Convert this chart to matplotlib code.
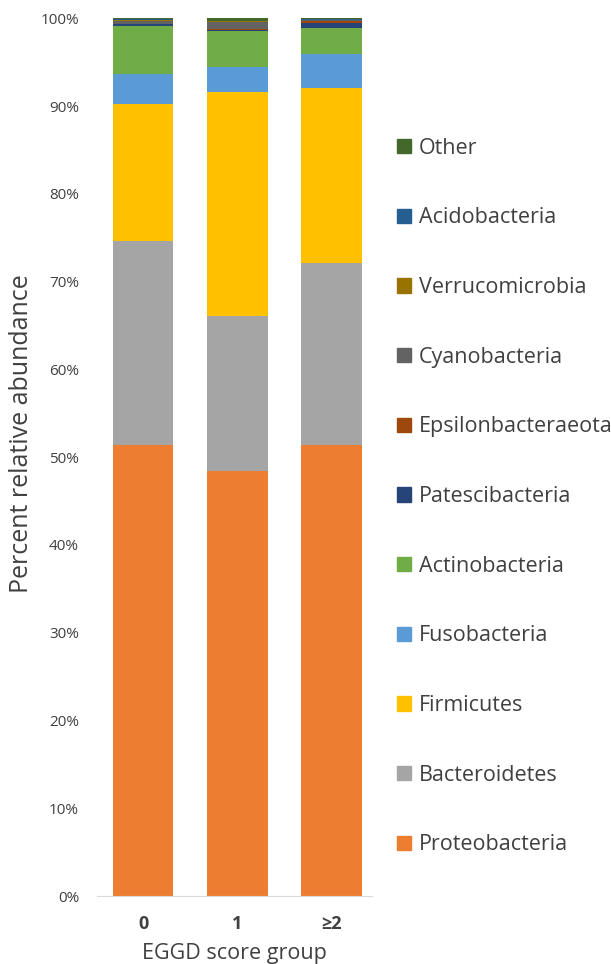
import numpy as np
import matplotlib
matplotlib.use('Agg')
from matplotlib import pyplot as plt
from matplotlib.patches import Patch

plt.rcParams['font.family'] = ['Open Sans', 'DejaVu Sans']

groups = ['0', '1', '\u22652']

# bottom to top stacking order
phyla = ['Proteobacteria', 'Bacteroidetes', 'Firmicutes', 'Fusobacteria',
         'Actinobacteria', 'Patescibacteria', 'Epsilonbacteraeota',
         'Cyanobacteria', 'Verrucomicrobia', 'Acidobacteria', 'Other']

proteobacteria = [51.4, 48.4, 51.4]
bacteroidetes = [23.2, 17.7, 20.7]
firmicutes = [15.6, 25.5, 20.0]
fusobacteria = [3.5, 2.8, 3.8]
actinobacteria = [5.4, 4.2, 3.0]
patescibacteria = [0.2, 0.1, 0.6]
epsilonbacteraeota = [0.1, 0.1, 0.2]
cyanobacteria = [0.3, 0.8, 0.1]
verrucomicrobia = [0.1, 0.1, 0.05]
acidobacteria = [0.1, 0.05, 0.05]
other = [0.1, 0.25, 0.1]

values = [proteobacteria, bacteroidetes, firmicutes, fusobacteria, actinobacteria,
          patescibacteria, epsilonbacteraeota, cyanobacteria, verrucomicrobia,
          acidobacteria, other]

colors = ['#ED7D31', '#A5A5A5', '#FFC000', '#5B9BD5', '#70AD47', '#264478',
          '#9E480E', '#636363', '#997300', '#255E91', '#43682B']

TEXT = '#404040'

fig = plt.figure(figsize=(6.11, 9.64), dpi=100)
ax = fig.add_axes([0.159, 0.0705, 0.45, 0.9105])

x = np.arange(len(groups))
bottom = np.zeros(len(groups))
for name, vals, col in zip(phyla, values, colors):
    ax.bar(x, vals, bottom=bottom, width=0.64, color=col, label=name)
    bottom += np.array(vals)

ax.set_ylim(0, 100)
ax.set_xlim(-0.49, 2.43)
ax.set_yticks(np.arange(0, 101, 10))
ax.set_yticklabels([f'{v}%' for v in range(0, 101, 10)], fontsize=11, color=TEXT)
ax.set_xticks(x)
ax.set_xticklabels(groups, fontsize=13, color=TEXT, fontweight='bold')
ax.tick_params(length=0)
ax.tick_params(axis='x', pad=14)
ax.tick_params(axis='y', pad=13)
for s in ['top', 'right', 'left']:
    ax.spines[s].set_visible(False)
ax.spines['bottom'].set_color('#D9D9D9')

ax.set_ylabel('Percent relative abundance', fontsize=18, color=TEXT)
ax.yaxis.set_label_coords(-0.23, 0.527)
ax.set_xlabel('EGGD score group', fontsize=15.5, color=TEXT, labelpad=7)

handles = [Patch(color=c, label=n) for n, c in zip(phyla, colors)][::-1]
fig.legend(handles=handles, loc='upper left', bbox_to_anchor=(0.636, 0.866),
           frameon=False, fontsize=15.5, labelcolor=TEXT, handlelength=0.65,
           handleheight=0.65, handletextpad=0.35, labelspacing=2.26,
           borderaxespad=0)

plt.savefig('out.png', dpi=100)
